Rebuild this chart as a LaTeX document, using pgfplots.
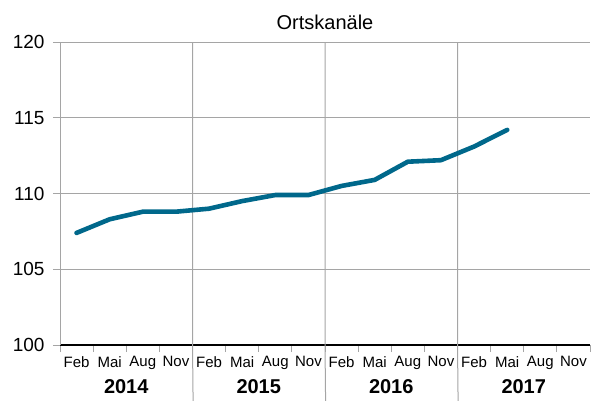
\documentclass[border=0pt]{standalone}
\usepackage{fontspec}
\setmainfont{Liberation Sans}
\usepackage{pgfplots}
\pgfplotsset{compat=1.18}
\definecolor{linecol}{RGB}{0,104,139}
\definecolor{gridcol}{RGB}{165,165,165}
\begin{document}
\begin{tikzpicture}
\useasboundingbox (0,0) rectangle (591bp,401bp);
\node[anchor=base, font=\fontsize{20bp}{24bp}\selectfont] at (325bp,371bp) {Ortskanäle};
\begin{axis}[
  at={(60bp,56bp)}, anchor=south west,
  scale only axis, width=530bp, height=303bp,
  xmin=-0.5, xmax=15.5, ymin=100, ymax=120,
  axis x line*=bottom, axis y line*=left,
  x axis line style={black, line width=1.6bp},
  y axis line style={gridcol, line width=1bp},
  ytick={100,105,110,115,120},
  ymajorgrids, grid style={gridcol, line width=1bp},
  major tick length=7bp, tick align=outside,
  tick style={gridcol, line width=1bp},
  xtick={-0.5,0.5,...,15.5}, xticklabels={},
  extra x ticks={0,1,...,15},
  extra x tick labels={Feb,Mai,Aug,Nov,Feb,Mai,Aug,Nov,Feb,Mai,Aug,Nov,Feb,Mai,Aug,Nov},
  extra x tick style={major tick length=0pt, tick style={draw=none}},
  xticklabel style={font=\fontsize{15bp}{18bp}\selectfont, yshift=-8bp},
  yticklabel style={font=\fontsize{19bp}{22bp}\selectfont, xshift=-5bp},
  /pgf/number format/assume math mode=true,
  clip=false,
]
\draw[gridcol, line width=1bp] (axis cs:3.5,120) -- (axis cs:3.5,100) -- ++(0,-49bp);
\draw[gridcol, line width=1bp] (axis cs:7.5,120) -- (axis cs:7.5,100) -- ++(0,-49bp);
\draw[gridcol, line width=1bp] (axis cs:11.5,120) -- (axis cs:11.5,100) -- ++(0,-49bp);
\addplot[linecol, line width=4.6bp, line cap=round, line join=round] coordinates {
(0,107.4) (1,108.3) (2,108.8) (3,108.8)
(4,109.0) (5,109.5) (6,109.9) (7,109.9)
(8,110.5) (9,110.9) (10,112.1) (11,112.2)
(12,113.1) (13,114.2)
};
\foreach \x/\yr in {1.5/2014,5.5/2015,9.5/2016,13.5/2017}{
  \edef\tmp{\noexpand\node[font=\noexpand\fontsize{20bp}{24bp}\noexpand\selectfont\noexpand\bfseries] at (axis cs:\x,100) [yshift=-42bp] {\yr};}\tmp
}
\end{axis}
\end{tikzpicture}
\end{document}
